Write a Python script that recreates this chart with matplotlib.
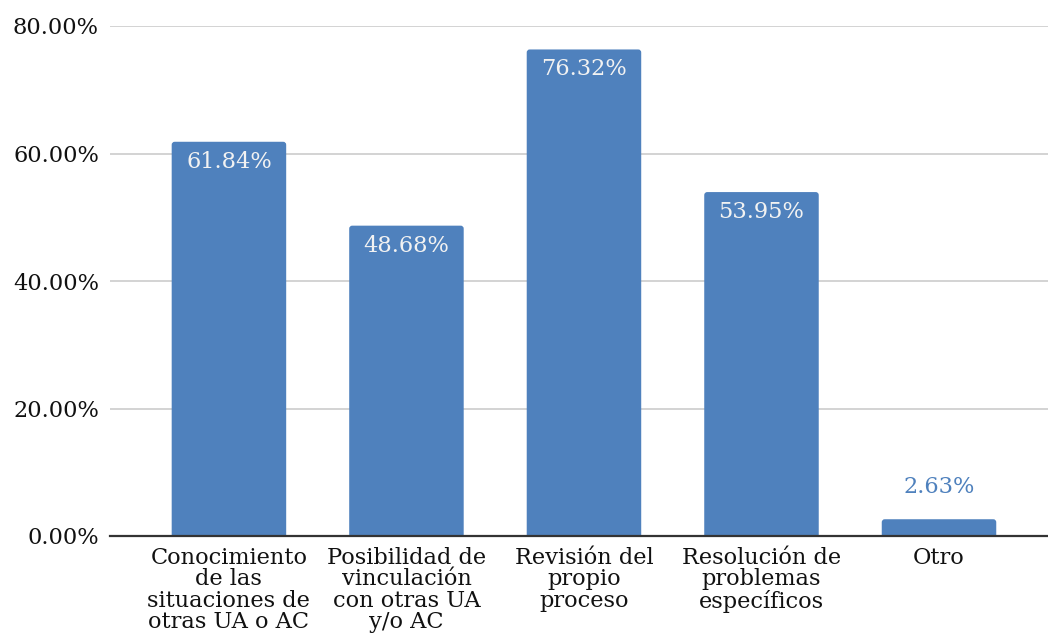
import matplotlib
matplotlib.use("Agg")
import matplotlib.pyplot as plt
from matplotlib.patches import FancyBboxPatch
from matplotlib.ticker import FuncFormatter

categories = ["Conocimiento\nde las\nsituaciones de\notras UA o AC",
              "Posibilidad de\nvinculación\ncon otras UA\ny/o AC",
              "Revisión del\npropio\nproceso",
              "Resolución de\nproblemas\nespecíficos",
              "Otro"]
values = [61.84, 48.68, 76.32, 53.95, 2.63]
yticks = [0, 20, 40, 60, 80]

plt.rcParams['font.family'] = ['DejaVu Serif']
BAR = "#4f81bd"
FS = 16.2

fig = plt.figure(figsize=(10.48, 6.35), dpi=100)
ax = fig.add_axes([110/1048, 1-536/635, (1048-110)/1048, (536-26)/635])

xs = list(range(len(values)))
bars = ax.bar(xs, values, width=0.645, color=BAR, zorder=3)

ax.set_xlim(-0.67, 4.614)
ax.set_ylim(0, 80)

# rounded corners
px_x = 1/177.5
px_y = 80/510
for b in bars:
    b.set_visible(False)
    r = 3 * px_x
    p = FancyBboxPatch((b.get_x(), -3), b.get_width(), b.get_height() + 3,
                       boxstyle=f"round,pad=0,rounding_size={r}",
                       mutation_aspect=px_y/px_x,
                       facecolor=BAR, edgecolor='none', zorder=3, clip_on=True)
    ax.add_patch(p)

for x, v in zip(xs, values):
    if v > 10:
        ax.text(x, v - 20*px_y, f"{v:.2f}%", ha='center', va='center',
                fontsize=FS, color='#f2f2f2', zorder=4)
    else:
        ax.text(x, v + 32*px_y, f"{v:.2f}%", ha='center', va='center',
                fontsize=FS, color=BAR, zorder=4)

ax.set_yticks(yticks)
ax.yaxis.set_major_formatter(FuncFormatter(lambda y, _: f"{y:.2f}%"))
ax.set_xticks(xs)
ax.set_xticklabels(categories, linespacing=0.96)
ax.tick_params(axis='both', length=0, labelsize=FS, labelcolor='#111111')
ax.tick_params(axis='y', pad=8)
ax.tick_params(axis='x', pad=8)

ax.grid(axis='y', color='#cccccc', linewidth=1.2, zorder=0)
ax.set_axisbelow(True)
for s in ['top', 'right', 'left']:
    ax.spines[s].set_visible(False)
ax.spines['bottom'].set_color('#333333')
ax.spines['bottom'].set_linewidth(1.6)
ax.spines['bottom'].set_zorder(5)

fig.savefig("out.png", dpi=100)
